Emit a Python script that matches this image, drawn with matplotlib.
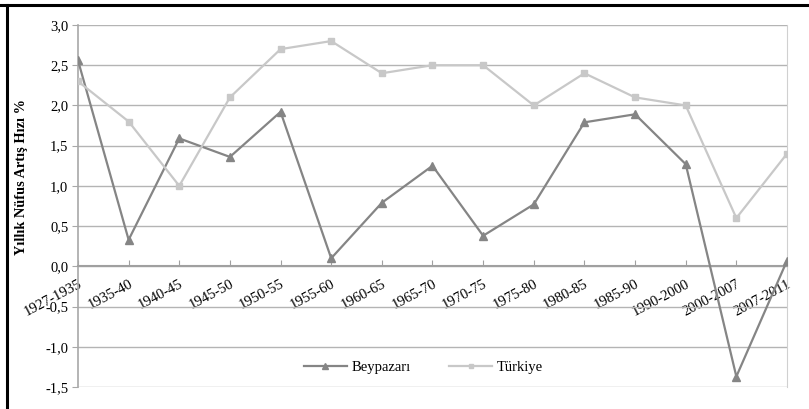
import matplotlib
matplotlib.use("Agg")
import matplotlib.pyplot as plt
from matplotlib.lines import Line2D

# data
periods = ["1927-1935", "1935-40", "1940-45", "1945-50", "1950-55", "1955-60",
           "1960-65", "1965-70", "1970-75", "1975-80", "1980-85", "1985-90",
           "1990-2000", "2000-2007", "2007-2011"]
beypazari = [2.56, 0.33, 1.59, 1.36, 1.92, 0.10, 0.79, 1.25, 0.38, 0.77,
             1.79, 1.89, 1.27, -1.37, 0.07]
turkiye = [2.3, 1.8, 1.0, 2.1, 2.7, 2.8, 2.4, 2.5, 2.5, 2.0, 2.4, 2.1, 2.0, 0.6, 1.4]
yticks = [-1.5, -1.0, -0.5, 0.0, 0.5, 1.0, 1.5, 2.0, 2.5, 3.0]

plt.rcParams['font.family'] = ['Liberation Serif', 'DejaVu Serif']

fig = plt.figure(figsize=(8.09, 4.09), dpi=100)
ax = fig.add_axes([0.0964, 0.0538, 0.8764, 0.8851])

x = list(range(len(periods)))
ax.plot(x, beypazari, color='#858585', lw=1.6, marker='^', ms=5.5, label='Beypazarı', zorder=3)
ax.plot(x, turkiye, color='#c8c8c8', lw=1.6, marker='s', ms=5, label='Türkiye', zorder=3)

ax.set_xlim(0, len(periods) - 1)
ax.set_ylim(-1.5, 3.0)

ax.yaxis.grid(True, color='#b4b4b4', lw=1)
ax.set_axisbelow(True)

ax.spines['top'].set_visible(False)
ax.spines['right'].set_color('#d0d0d0')
ax.spines['left'].set_color('#a8a8a8')
ax.spines['left'].set_linewidth(1.2)
ax.spines['bottom'].set_position(('data', 0))
ax.spines['bottom'].set_color('#a0a0a0')
ax.spines['bottom'].set_linewidth(1.5)

ax.tick_params(axis='x', direction='in', length=4, color='#a0a0a0', pad=8, labelsize=10.5)
ax.tick_params(axis='y', direction='out', length=4, color='#a8a8a8', pad=3, labelsize=10.5)

ax.set_yticks(yticks)
ax.set_yticklabels([f"{v:.1f}".replace('.', ',') for v in yticks])
ax.set_xticks(x)
ax.set_xticklabels(periods)
for lab in ax.get_xticklabels():
    lab.set_rotation(28)
    lab.set_ha('right')
    lab.set_va('top')
    lab.set_rotation_mode('anchor')

ax.set_ylabel('Yıllık Nüfus Artış Hızı %', fontsize=10.3, fontweight='bold')
ax.yaxis.set_label_coords(-0.071, 0.58)

ax.legend(loc='center', bbox_to_anchor=(0.487, 0.055), ncol=2, frameon=False,
          fontsize=10.5, handlelength=3.0, columnspacing=2.6, handletextpad=0.3,
          markerscale=0.7)

# black frame lines of the original figure
fig.add_artist(Line2D([0, 1], [0.988, 0.988], color='black', lw=2.2, transform=fig.transFigure))
fig.add_artist(Line2D([0.0087, 0.0087], [0, 0.988], color='black', lw=2.2, transform=fig.transFigure))

fig.savefig('out.png', dpi=100)
